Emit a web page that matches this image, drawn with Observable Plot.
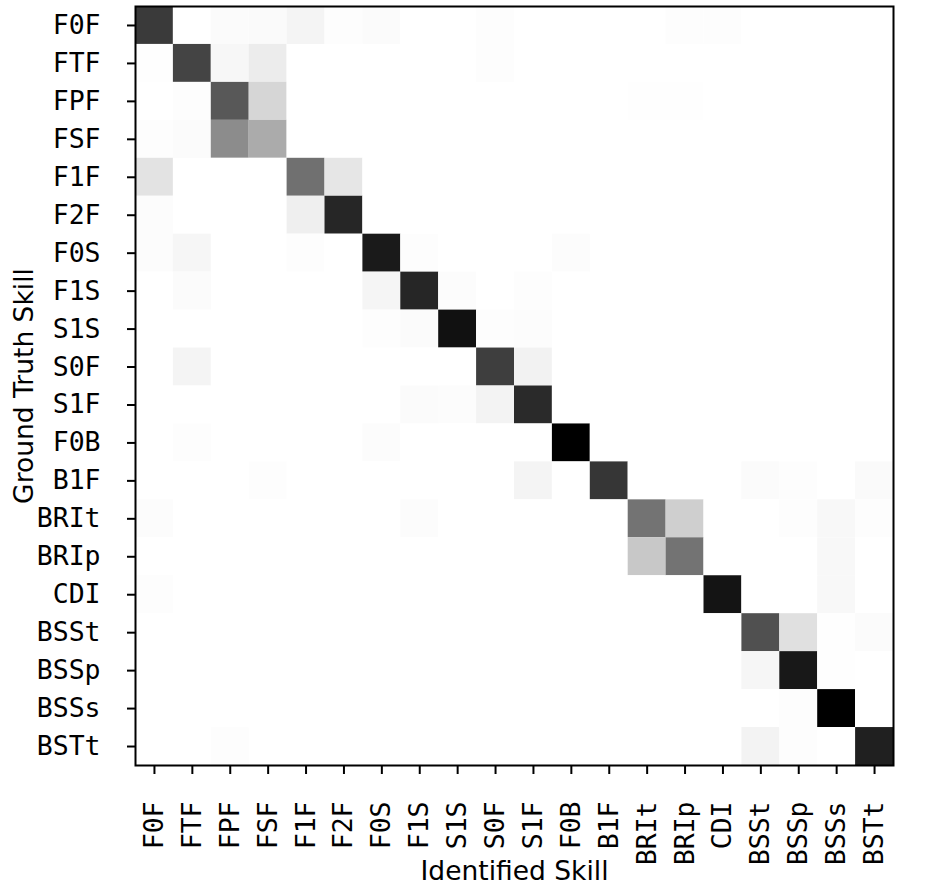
<!DOCTYPE html>
<html><head><meta charset="utf-8">
<script src="https://cdn.jsdelivr.net/npm/d3@7"></script>
<script src="https://cdn.jsdelivr.net/npm/@observablehq/plot@0.6"></script>
<style>body{margin:0;background:#fff}</style>
</head><body><div id="chart"></div>
<script>
// Skill labels (rows = ground truth, columns = identified)
const skills = ["F0F","FTF","FPF","FSF","F1F","F2F","F0S","F1S","S1S","S0F","S1F","F0B","B1F","BRIt","BRIp","CDI","BSSt","BSSp","BSSs","BSTt"];

// Normalised confusion values (row = ground truth)
const rowF0F  = [0.817,0,0.033,0.042,0.092,0.017,0.033,0,0,0.017,0,0,0,0,0.017,0.017,0,0,0,0];
const rowFTF  = [0.008,0.789,0.067,0.147,0,0,0,0,0,0.017,0,0,0,0,0,0,0,0,0,0];
const rowFPF  = [0,0.017,0.727,0.263,0,0,0,0,0,0,0,0,0,0.012,0.012,0,0,0,0,0];
const rowFSF  = [0.017,0.033,0.536,0.433,0,0,0,0,0,0,0,0,0,0,0,0,0,0,0,0];
const rowF1F  = [0.196,0,0,0,0.636,0.179,0,0,0,0,0,0,0,0,0,0,0,0,0,0];
const rowF2F  = [0.025,0,0,0,0.13,0.872,0,0,0,0,0,0,0,0,0,0,0,0,0,0];
const rowF0S  = [0.025,0.075,0,0,0.017,0,0.912,0.017,0,0,0,0.025,0,0,0,0,0,0,0,0];
const rowF1S  = [0,0.033,0,0,0,0,0.083,0.872,0.025,0,0.017,0,0,0,0,0,0,0,0,0];
const rowS1S  = [0,0,0,0,0,0,0.017,0.033,0.943,0.017,0.025,0,0,0,0,0,0,0,0,0];
const rowS0F  = [0,0.092,0,0,0,0,0,0,0,0.806,0.108,0,0,0,0,0,0,0,0,0];
const rowS1F  = [0,0,0,0,0,0,0,0.033,0.025,0.1,0.861,0,0,0,0,0,0,0,0,0];
const rowF0B  = [0,0.017,0,0,0,0,0.025,0,0,0,0,1,0,0,0,0,0,0,0,0];
const rowB1F  = [0,0,0,0.017,0,0,0,0,0,0,0.092,0,0.828,0,0,0,0.033,0.017,0,0.042];
const rowBRIt = [0.025,0,0,0,0,0,0,0.025,0,0,0,0,0,0.625,0.295,0,0,0.017,0.058,0.017];
const rowBRIp = [0,0,0,0,0,0,0,0,0,0,0,0,0,0.326,0.625,0,0,0,0.058,0];
const rowCDI  = [0.017,0,0,0,0,0,0,0,0,0,0,0,0,0,0,0.932,0,0,0.058,0];
const rowBSSt = [0,0,0,0,0,0,0,0,0,0,0,0,0,0,0,0,0.756,0.212,0.008,0.033];
const rowBSSp = [0,0,0,0,0,0,0,0,0,0,0,0,0,0,0,0,0.075,0.919,0.008,0];
const rowBSSs = [0,0,0,0,0,0,0,0,0,0,0,0,0,0,0,0,0,0.017,1,0];
const rowBSTt = [0,0,0.017,0,0,0,0,0,0,0,0,0,0,0,0,0,0.1,0.017,0,0.892];

const confusion = [rowF0F,rowFTF,rowFPF,rowFSF,rowF1F,rowF2F,rowF0S,rowF1S,rowS1S,rowS0F,rowS1F,rowF0B,rowB1F,rowBRIt,rowBRIp,rowCDI,rowBSSt,rowBSSp,rowBSSs,rowBSTt];

const greys = ["#ffffff","#f0f0f0","#d9d9d9","#bdbdbd","#969696","#737373","#525252","#252525","#000000"];

const cells = [];
confusion.forEach((row, i) => row.forEach((v, j) => cells.push({truth: skills[i], identified: skills[j], value: v})));

const pad = s => s + "\u00a0";

const chart = Plot.plot({
  width: 925,
  height: 887,
  marginLeft: 135,
  marginRight: 32,
  marginTop: 6,
  marginBottom: 122,
  style: {fontFamily: "DejaVu Sans Mono", fontSize: "26.5px", background: "white", color: "black"},
  x: {domain: skills, padding: 0, round: false, label: null},
  y: {domain: skills, padding: 0, round: false, label: null},
  color: {type: "linear", domain: [0, 1], interpolate: d3.piecewise(d3.interpolateRgb, greys)},
  marks: [
    Plot.cell(cells, {x: "identified", y: "truth", fill: "value", inset: 0}),
    Plot.frame({stroke: "black", strokeWidth: 2}),
    Plot.axisX({tickSize: 9, tickPadding: 11, tickRotate: -90, tickFormat: pad, strokeWidth: 2, label: null}),
    Plot.axisY({tickSize: 8, tickPadding: 11, tickFormat: pad, strokeWidth: 2, label: null}),
    Plot.text(["Identified Skill"], {text: d => d, frameAnchor: "bottom", textAnchor: "middle", dy: 114, lineAnchor: "bottom", fontFamily: "DejaVu Sans", fontSize: 26.5}),
    Plot.text(["Ground Truth Skill"], {text: d => d, frameAnchor: "left", textAnchor: "middle", dx: -121, rotate: -90, lineAnchor: "top", fontFamily: "DejaVu Sans", fontSize: 26.5})
  ]
});
document.getElementById("chart").appendChild(chart);
</script>
</body></html>
